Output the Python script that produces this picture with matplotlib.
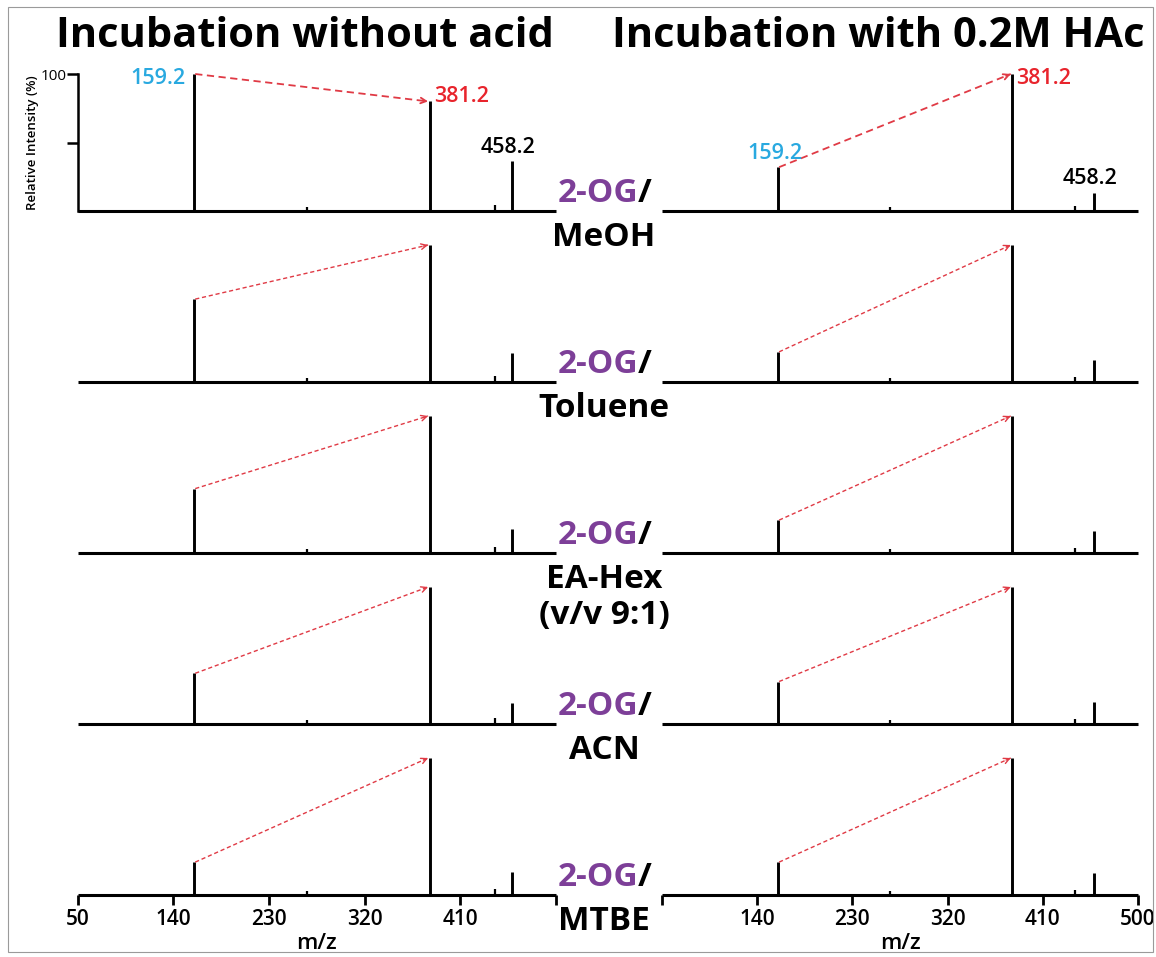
import numpy as np
import matplotlib
matplotlib.use("Agg")
import matplotlib.pyplot as plt
from matplotlib.patches import Rectangle

plt.rcParams['font.family'] = ['Open Sans', 'DejaVu Sans']

# m/z of the labelled peaks
peak_mz = [159.2, 381.2, 458.2]
solvents = ["MeOH", "Toluene", "EA-Hex\n(v/v 9:1)", "ACN", "MTBE"]

# relative intensity (%) of 159.2 / 381.2 / 458.2, one row per solvent
no_acid = [
    [100, 80, 36.5],
    [60.5, 100, 21],
    [47, 100, 17.5],
    [37, 100, 15],
    [24, 100, 17],
]
with_hac = [
    [32, 100, 13],
    [22, 100, 16],
    [24, 100, 16],
    [31, 100, 16],
    [24, 100, 16],
]

# small background peaks
minor_mz_left = [99, 117, 248, 266, 425, 443]
minor_h_left = [0.8, 1.0, 0.6, 3.0, 0.6, 4.5]
minor_mz_right = [117, 248, 266, 425, 440]
minor_h_right = [0.6, 0.6, 3.0, 0.6, 4.0]

xticks = [50, 140, 230, 320, 410, 500]
titles = ["Incubation without acid", "Incubation with 0.2M HAc"]

BLUE = "#29a9e0"
RED = "#e8242c"
ARROW = "#e03a45"
PURPLE = "#7d3f98"

W, H = 1156, 957
fig = plt.figure(figsize=(W / 100, H / 100), dpi=100)
fig.patches.append(Rectangle((8 / W, 1 - 952 / H), (1153 - 8) / W, (952 - 7) / H,
                             transform=fig.transFigure, fill=False, edgecolor="#9a9a9a", lw=0.8))

def fx(x):
    return x / W

def fy(y):
    return 1 - y / H

col_x = [(77.5, 556), (662, 1138)]
base0 = 211
row_step = 171
full_h = 137

axes = []
for r in range(5):
    base = base0 + row_step * r
    row_axes = []
    for c in range(2):
        x0, x1 = col_x[c]
        ax = fig.add_axes([fx(x0), fy(base), (x1 - x0) / W, full_h / H])
        ax.set_xlim(50, 500)
        ax.set_ylim(0, 100)
        ax.patch.set_alpha(0)
        for s in ["top", "right", "left"]:
            ax.spines[s].set_visible(False)
        ax.spines["bottom"].set_linewidth(2.2)
        ax.spines["bottom"].set_capstyle("butt")

        data = no_acid[r] if c == 0 else with_hac[r]
        mm = minor_mz_left if c == 0 else minor_mz_right
        mh = minor_h_left if c == 0 else minor_h_right
        ax.vlines(peak_mz, 0, data, color="black", lw=2.1, clip_on=False)
        ax.vlines(mm, 0, mh, color="black", lw=1.6, clip_on=False)

        # dashed arrow from 159.2 to 381.2
        start = np.array([peak_mz[0] + 1.5, data[0]])
        end = np.array([peak_mz[1] - 1.5, data[1]])
        lw = 1.3 if r == 0 else 1.0
        dash = (4, 2.5) if r == 0 else (3, 2)
        ax.plot([start[0], end[0]], [start[1], end[1]], color=ARROW, lw=lw,
                dashes=dash, clip_on=False)
        back = end - (end - start) * 0.02
        ax.annotate("", xy=tuple(end), xytext=tuple(back),
                    arrowprops=dict(arrowstyle="->", color=ARROW, lw=lw,
                                    shrinkA=0, shrinkB=0, mutation_scale=10),
                    annotation_clip=False)

        if r == 4:
            ax.set_xticks(xticks)
            if c == 0:
                ax.set_xticklabels([str(t) for t in xticks[:-1]] + [""])
            else:
                ax.set_xticklabels([""] + [str(t) for t in xticks[1:]])
            ax.tick_params(axis="x", length=7, width=2, labelsize=15, pad=3)
            for t in ax.get_xticklabels():
                t.set_fontweight("semibold")
            ax.set_xlabel("m/z", fontsize=16, labelpad=2, fontweight="semibold")
        else:
            ax.set_xticks([])
        ax.set_yticks([])
        row_axes.append(ax)
    axes.append(row_axes)

# y axis on the first panel only
ax0 = axes[0][0]
ax0.spines["left"].set_visible(True)
ax0.spines["left"].set_linewidth(1.8)
ax0.set_yticks([50, 100])
ax0.set_yticklabels(["", "100"])
ax0.tick_params(axis="y", length=8, width=1.8, labelsize=11, pad=0)
ax0.set_ylabel("Relative Intensity (%)", fontsize=9.5, labelpad=1, fontweight="semibold")

# peak labels, first row
def lab(ax, x, y, s, color, dx, dy, ha):
    ax.annotate(s, xy=(x, y), xytext=(dx * 0.72, dy * 0.72), textcoords="offset points",
                ha=ha, va="center", color=color, fontsize=15.5, fontweight="semibold",
                annotation_clip=False)

a, b = axes[0]
lab(a, peak_mz[0], no_acid[0][0], "159.2", BLUE, -8, -5, "right")
lab(a, peak_mz[1], no_acid[0][1], "381.2", RED, 4, 5, "left")
lab(a, peak_mz[2], no_acid[0][2], "458.2", "black", -4, 13, "center")
lab(b, peak_mz[0], with_hac[0][0], "159.2", BLUE, -3, 14, "center")
lab(b, peak_mz[1], with_hac[0][1], "381.2", RED, 4, -5, "left")
lab(b, peak_mz[2], with_hac[0][2], "458.2", "black", -4, 15, "center")

# titles
fig.text(fx(305), fy(47), titles[0], ha="center", va="baseline", fontsize=30, fontweight="bold")
fig.text(fx(878), fy(47), titles[1], ha="center", va="baseline", fontsize=30, fontweight="bold")

# middle labels
for r in range(5):
    base = base0 + row_step * r
    fig.text(fx(638), fy(base - 9), "2-OG", ha="right", va="baseline",
             color=PURPLE, fontsize=24, fontweight="bold")
    fig.text(fx(638), fy(base - 9), "/", ha="left", va="baseline",
             color="black", fontsize=24, fontweight="bold")
    for k, line in enumerate(solvents[r].split("\n")):
        fig.text(fx(604), fy(base + 35 + 36 * k), line, ha="center", va="baseline",
                 color="black", fontsize=24, fontweight="bold")

fig.savefig("out.png", dpi=100)
